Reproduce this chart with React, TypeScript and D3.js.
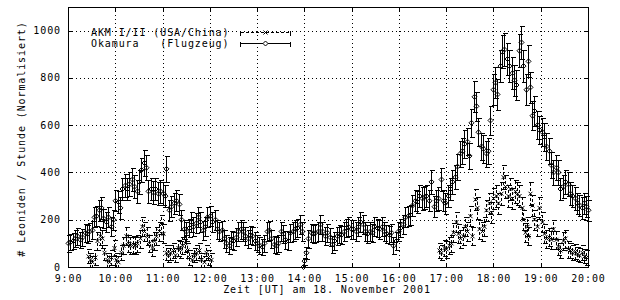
import React from "react";
import * as d3 from "d3";

// [minutes after 9:00 UT, rate, error]
const akmPoints: [number, number, number][] = [
  [25,45,30],[28,30,28],[31,20,25],[34,40,30],[37,110,38],[40,130,38],[43,120,38],[46,60,32],[49,30,28],[52,20,25],
  [55,40,30],[58,80,35],[61,30,28],[64,20,25],[67,60,32],[70,90,35],[73,130,38],[76,100,36],[79,90,35],[82,95,35],
  [85,90,35],[88,100,36],[91,120,38],[94,170,40],[97,150,40],[100,130,38],[103,100,36],[106,80,35],[109,110,38],[112,130,38],
  [115,150,40],[118,180,42],[121,140,40],[124,60,32],[127,50,30],[130,60,32],[133,70,33],[136,50,30],[139,80,35],[142,75,35],
  [145,90,35],[148,100,36],[151,70,33],[154,40,30],[157,30,28],[160,50,30],[163,60,32],[166,70,33],[169,30,28],[172,20,25],
  [175,60,32],[178,40,30],[181,30,28],
  [471,70,33],[474,60,32],[477,80,35],[480,75,35],[483,90,35],[486,100,36],[489,145,40],[492,190,42],[495,140,40],[498,120,38],
  [501,130,38],[504,170,40],[507,150,40],[510,215,42],[513,130,38],[516,285,45],[519,250,45],[522,160,40],[525,150,40],[528,170,40],
  [531,240,45],[534,270,45],[537,230,45],[540,290,45],[543,300,48],[546,270,45],[549,310,48],[552,380,50],[555,340,48],[558,300,48],
  [561,330,48],[564,290,45],[567,320,48],[570,310,48],[573,300,48],[576,250,45],[578,200,42],[580,145,40],[582,170,40],[584,130,38],
  [587,310,48],[589,260,45],[592,200,42],[595,170,40],[598,250,45],[601,190,42],[604,140,40],[607,120,38],[610,125,38],[613,115,38],
  [616,160,40],[619,115,38],[622,85,35],[625,70,33],[628,110,38],[631,120,38],[634,75,35],[637,70,33],[640,60,32],[643,65,32],
  [646,55,30],[649,50,30],[652,60,32],[655,45,30],[658,40,30],
];

const okamuraPoints: [number, number, number][] = [
  [0,100,35],[3,105,35],[6,110,35],[9,120,35],[12,130,35],[15,115,35],[18,125,35],[21,145,38],[24,140,38],[27,150,38],
  [30,155,38],[33,210,42],[36,215,42],[39,240,45],[42,250,45],[45,205,42],[48,190,42],[51,210,42],[54,170,40],[57,200,42],
  [60,280,45],[63,275,45],[66,250,45],[69,330,48],[72,345,48],[75,330,48],[78,350,50],[81,370,50],[84,340,48],[87,320,48],
  [90,360,50],[93,410,52],[96,440,55],[99,420,52],[102,320,48],[105,330,48],[108,315,48],[111,330,48],[114,310,48],[117,320,48],
  [120,310,48],[123,300,48],[125,415,55],[128,240,45],[131,255,45],[134,270,45],[137,280,45],[141,265,45],[144,200,42],[147,160,40],
  [150,150,40],[153,165,40],[156,190,42],[159,170,40],[162,185,42],[165,210,42],[168,190,42],[171,155,40],[174,170,40],[177,210,42],
  [180,215,42],[183,190,42],[186,200,42],[189,160,40],[192,150,40],[195,155,40],[198,120,38],[201,100,35],[204,90,35],[207,115,38],
  [210,110,38],[213,125,38],[216,150,40],[219,160,40],[222,150,40],[225,130,38],[228,120,38],[231,135,38],[234,130,38],[237,110,38],
  [240,100,35],[243,90,35],[246,85,35],[249,100,35],[252,150,40],[255,155,40],[258,120,38],[261,95,35],[264,90,35],[267,100,35],
  [270,150,40],[273,140,38],[276,115,38],[279,110,38],[282,145,38],[285,150,40],[288,160,40],[291,165,40],[294,180,40],[297,150,40],
  [298.5,0,8],[300,25,15],[302,60,25],[305,120,38],[308,145,38],[311,140,38],[314,145,38],[317,150,40],[320,180,40],[323,150,40],
  [326,130,38],[329,145,38],[332,125,38],[335,95,35],[338,110,38],[341,130,38],[344,140,38],[347,135,38],[350,150,40],[353,165,40],
  [356,170,40],[359,160,40],[362,160,40],[365,150,40],[368,170,40],[371,190,42],[374,180,40],[377,150,40],[380,140,38],[383,150,40],
  [386,145,38],[389,170,40],[392,165,40],[395,160,40],[398,170,40],[401,150,40],[404,140,38],[407,135,38],[410,145,38],[413,90,35],
  [416,110,38],[419,150,40],[422,165,40],[425,180,40],[428,210,42],[431,215,42],[434,220,42],[437,260,45],[440,280,45],[443,275,45],
  [446,300,48],[449,290,48],[452,295,48],[455,300,48],[458,280,45],[461,360,50],[464,255,45],[467,280,45],[470,290,48],[473,370,50],
  [476,280,45],[479,270,45],[482,300,48],[485,330,48],[488,360,50],[491,380,52],[494,425,55],[497,480,55],[500,490,55],[503,520,58],
  [506,530,58],[509,470,55],[512,610,60],[515,720,65],[518,680,62],[521,570,60],[524,510,58],[527,500,58],[530,480,55],[533,490,55],
  [536,620,60],[539,750,65],[542,780,65],[545,730,65],[548,850,68],[551,910,70],[554,920,70],[557,880,68],[560,850,68],[563,820,68],
  [566,790,65],[569,770,65],[572,915,70],[575,950,70],[578,850,68],[581,750,65],[584,870,68],[587,760,65],[589,640,62],[592,660,62],
  [595,600,60],[598,580,60],[601,570,60],[604,550,58],[607,510,58],[610,490,55],[613,430,55],[616,400,52],[619,420,52],[622,400,52],
  [625,330,48],[628,340,48],[631,360,50],[634,350,50],[637,310,48],[640,300,48],[643,290,48],[646,270,45],[649,260,45],[652,250,45],
  [655,270,45],[658,255,45],[660,240,45],
];

const xTickMinutes = [0, 60, 120, 180, 240, 300, 360, 420, 480, 540, 600, 660];
const xTickLabels = ["9:00", "10:00", "11:00", "12:00", "13:00", "14:00", "15:00", "16:00", "17:00", "18:00", "19:00", "20:00"];
const yTicks = [0, 200, 400, 600, 800, 1000];
const seriesNames = ["AKM I/II (USA/China)", "Okamura   (Flugzeug)"];
const xTitle = "Zeit [UT] am 18. November 2001";
const yTitle = "# Leoniden / Stunde (Normalisiert)";

const W = 620, H = 300;
const L = 68, R = 588, T = 7, B = 267;
const FONT = "'DejaVu Sans Mono', 'Liberation Mono', monospace";

const px = (v: number) => Math.round(v) + 0.5;

export default function App() {
  const x = d3.scaleLinear().domain([0, 660]).range([L, R]);
  const y = d3.scaleLinear().domain([0, 1100]).range([B, T]);
  const textStyle: React.CSSProperties = { fontFamily: FONT, fontSize: 10, letterSpacing: 0.9 };

  const errBars = (pts: [number, number, number][], dashed: boolean, marker: "x" | "d", key: string) => (
    <g key={key} stroke="#000" strokeWidth={1} fill="none">
      {pts.map(([t, v, e], i) => {
        const cx = px(x(t));
        const lo = Math.min(B, y(Math.max(0, v - e)));
        const hi = y(v + e);
        const cy = y(v);
        const yl = px(lo), yh = px(hi);
        return (
          <g key={i}>
            <line x1={cx} x2={cx} y1={yl} y2={yh} strokeDasharray={dashed ? "3,2" : undefined} shapeRendering="crispEdges" />
            <line x1={cx - 2} x2={cx + 3} y1={yl} y2={yl} shapeRendering="crispEdges" />
            <line x1={cx - 2} x2={cx + 3} y1={yh} y2={yh} shapeRendering="crispEdges" />
            {marker === "x" ? (
              <path d={`M${cx - 2},${cy - 2}L${cx + 2},${cy + 2}M${cx - 2},${cy + 2}L${cx + 2},${cy - 2}`} />
            ) : (
              <path d={`M${cx - 2.5},${cy}L${cx},${cy - 2.5}L${cx + 2.5},${cy}L${cx},${cy + 2.5}Z`} />
            )}
          </g>
        );
      })}
    </g>
  );

  const legendRows = [
    { name: seriesNames[0], yy: 32.5, dashed: true, marker: "x" },
    { name: seriesNames[1], yy: 43.5, dashed: false, marker: "d" },
  ];

  return (
    <svg width={W} height={H} style={{ position: "absolute", left: 0, top: 0, background: "#fff" }}>
      <rect x={0} y={0} width={W} height={H} fill="#fff" />
      {/* grid */}
      <g stroke="#000" strokeWidth={1} strokeDasharray="1,3" shapeRendering="crispEdges">
        {xTickMinutes.slice(1, -1).map((m) => (
          <line key={"gx" + m} x1={px(x(m))} x2={px(x(m))} y1={T} y2={B} />
        ))}
        {yTicks.slice(1).map((v) => (
          <line key={"gy" + v} x1={L} x2={R} y1={px(y(v))} y2={px(y(v))} />
        ))}
      </g>
      {/* ticks */}
      <g stroke="#000" strokeWidth={1} shapeRendering="crispEdges">
        {xTickMinutes.map((m) => (
          <g key={"tx" + m}>
            <line x1={px(x(m))} x2={px(x(m))} y1={B + 0.5} y2={B - 4} />
            <line x1={px(x(m))} x2={px(x(m))} y1={T + 0.5} y2={T + 5} />
          </g>
        ))}
        {yTicks.map((v) => (
          <g key={"ty" + v}>
            <line x1={L + 0.5} x2={L + 5} y1={px(y(v))} y2={px(y(v))} />
            <line x1={R + 0.5} x2={R - 4} y1={px(y(v))} y2={px(y(v))} />
          </g>
        ))}
      </g>
      {/* data */}
      {errBars(akmPoints, true, "x", "akm")}
      {errBars(okamuraPoints, false, "d", "oka")}
      {/* frame */}
      <rect x={L + 0.5} y={T + 0.5} width={R - L} height={B - T} fill="none" stroke="#000" strokeWidth={1} shapeRendering="crispEdges" />
      {/* legend */}
      {legendRows.map((r) => (
        <g key={r.name}>
          <text x={91} y={r.yy} dominantBaseline="central" style={{ ...textStyle, whiteSpace: "pre" }} xmlSpace="preserve">
            {r.name}
          </text>
          <g stroke="#000" strokeWidth={1} fill="none" shapeRendering="crispEdges">
            <line x1={240.5} x2={290.5} y1={r.yy} y2={r.yy} strokeDasharray={r.dashed ? "3,2" : undefined} />
            <line x1={240.5} x2={240.5} y1={r.yy - 2} y2={r.yy + 3} />
            <line x1={290.5} x2={290.5} y1={r.yy - 2} y2={r.yy + 3} />
          </g>
          {r.marker === "x" ? (
            <path d={`M263.5,${r.yy - 2}L267.5,${r.yy + 2}M263.5,${r.yy + 2}L267.5,${r.yy - 2}`} stroke="#000" fill="none" />
          ) : (
            <path d={`M263,${r.yy}L265.5,${r.yy - 2.5}L268,${r.yy}L265.5,${r.yy + 2.5}Z`} stroke="#000" fill="#fff" />
          )}
        </g>
      ))}
      {/* axis labels */}
      {yTicks.map((v) => (
        <text key={"ly" + v} x={61} y={y(v)} textAnchor="end" dominantBaseline="central" style={textStyle}>
          {v}
        </text>
      ))}
      {xTickMinutes.map((m, i) => (
        <text key={"lx" + m} x={x(m) + 0.5} y={278.5} textAnchor="middle" dominantBaseline="central" style={textStyle}>
          {xTickLabels[i]}
        </text>
      ))}
      <text x={327} y={289.5} textAnchor="middle" dominantBaseline="central" style={textStyle}>
        {xTitle}
      </text>
      <text
        transform={`translate(21.5,139) rotate(-90)`}
        textAnchor="middle"
        dominantBaseline="central"
        style={textStyle}
      >
        {yTitle}
      </text>
    </svg>
  );
}
